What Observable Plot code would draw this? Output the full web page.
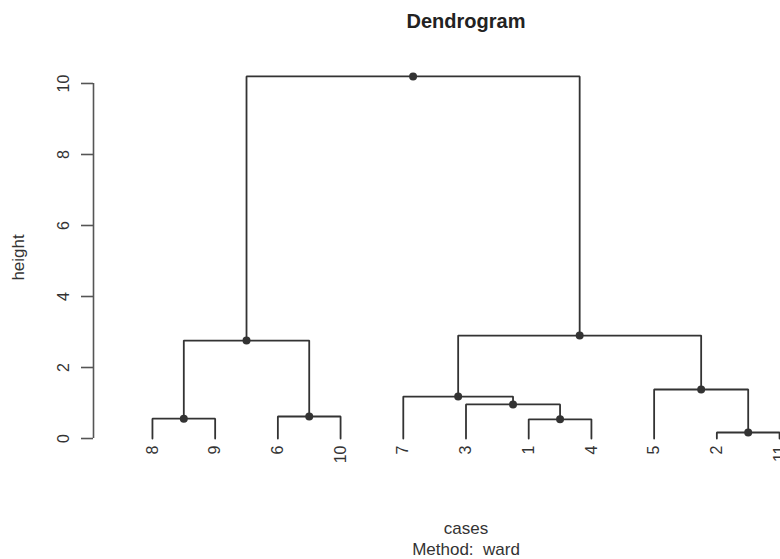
<!DOCTYPE html>
<html><head><meta charset="utf-8">
<script src="https://cdn.jsdelivr.net/npm/d3@7"></script>
<script src="https://cdn.jsdelivr.net/npm/@observablehq/plot@0.6"></script>
<style>
html,body{margin:0;padding:0;background:#fff;}
#wrap{width:780px;height:559px;overflow:hidden;position:relative;}
#wrap svg{max-width:none !important;height:559px !important;width:860px !important;}
</style></head><body><div id="wrap"></div>
<script>
// Leaf order along the x axis (case ids)
const leafIds = [8, 9, 6, 10, 7, 3, 1, 4, 5, 2, 11];
// Merge table (R hclust style): negative = leaf id, positive = earlier merge (1-based)
const mergeLeft   = [-2, -1, -8, -6, -3, -7, -5, 3, 6, 8];
const mergeRight  = [-11, -4, -9, -10, 2, 5, 1, 4, 7, 9];
const mergeHeight = [0.17, 0.54, 0.56, 0.62, 0.96, 1.18, 1.38, 2.76, 2.90, 10.2];
const yTicks = [0, 2, 4, 6, 8, 10];
const titleText = "Dendrogram";
const xLabel = "cases";
const subLabel = "Method:  ward";
const yLabel = "height";

const xDomain = [0.06, 11.94];
const yDomain = [-0.408, 10.608];
const font = "'Liberation Sans', Arial, Helvetica, sans-serif";
const ink = "#333";

// layout of nodes
const leafPos = new Map(leafIds.map((id, i) => [id, i + 1]));
const nodes = [];
function node(ref) {
  return ref < 0 ? {x: leafPos.get(-ref), h: 0} : nodes[ref - 1];
}
mergeHeight.forEach((h, k) => {
  const a = node(mergeLeft[k]), b = node(mergeRight[k]);
  nodes.push({x: (a.x + b.x) / 2, h, a, b});
});
const pathPts = [];
nodes.forEach((n, k) => {
  [n.a, n.b].forEach((c, s) => {
    const id = k + "-" + s;
    pathPts.push({id, x: c.x, y: c.h});
    pathPts.push({id, x: c.x, y: n.h});
    pathPts.push({id, x: n.x, y: n.h});
  });
});
const leaves = leafIds.map(id => ({label: String(id), x: leafPos.get(id), y: 0}));

const chart = Plot.plot({
  width: 860,
  height: 559,
  marginLeft: 93,
  marginRight: 22,
  marginTop: 61.4,
  marginBottom: 106.5,
  style: {fontFamily: font, background: "#fff", overflow: "visible", maxWidth: "none"},
  x: {domain: xDomain, axis: null},
  y: {domain: yDomain, axis: null},
  marks: [
    Plot.ruleX([xDomain[0]], {y1: yTicks[0], y2: yTicks[yTicks.length - 1], stroke: "#555", strokeWidth: 1.6}),
    Plot.axisY({ticks: yTicks, tickSize: 12, tickFormat: () => "", stroke: "#555", strokeWidth: 1.6, label: null}),
    Plot.text(yTicks, {y: d => d, frameAnchor: "left", dx: -25, rotate: -90, textAnchor: "middle", lineAnchor: "bottom", fontSize: 16, fill: ink, text: d => String(d)}),
    Plot.line(pathPts, {x: "x", y: "y", z: "id", stroke: ink, strokeWidth: 1.8, strokeLinejoin: "miter", curve: "linear"}),
    Plot.dot(nodes, {x: "x", y: "h", r: 4, fill: ink, stroke: null}),
    Plot.text(leaves, {x: "x", y: "y", text: "label", rotate: -90, textAnchor: "end", lineAnchor: "middle", dy: 7, fontSize: 16, fill: ink}),
    Plot.text([titleText], {frameAnchor: "top", dy: -34.4, lineAnchor: "bottom", fontSize: 20, fontWeight: "bold", fill: "#222"}),
    Plot.text([xLabel], {frameAnchor: "bottom", dy: 80.5, lineAnchor: "bottom", fontSize: 17, fill: ink}),
    Plot.text([subLabel], {frameAnchor: "bottom", dy: 101.5, lineAnchor: "bottom", fontSize: 17, fill: ink}),
    Plot.text([yLabel], {frameAnchor: "left", dx: -70, rotate: -90, textAnchor: "middle", lineAnchor: "bottom", fontSize: 17, fill: ink})
  ]
});
document.getElementById("wrap").appendChild(chart);
</script></body></html>
